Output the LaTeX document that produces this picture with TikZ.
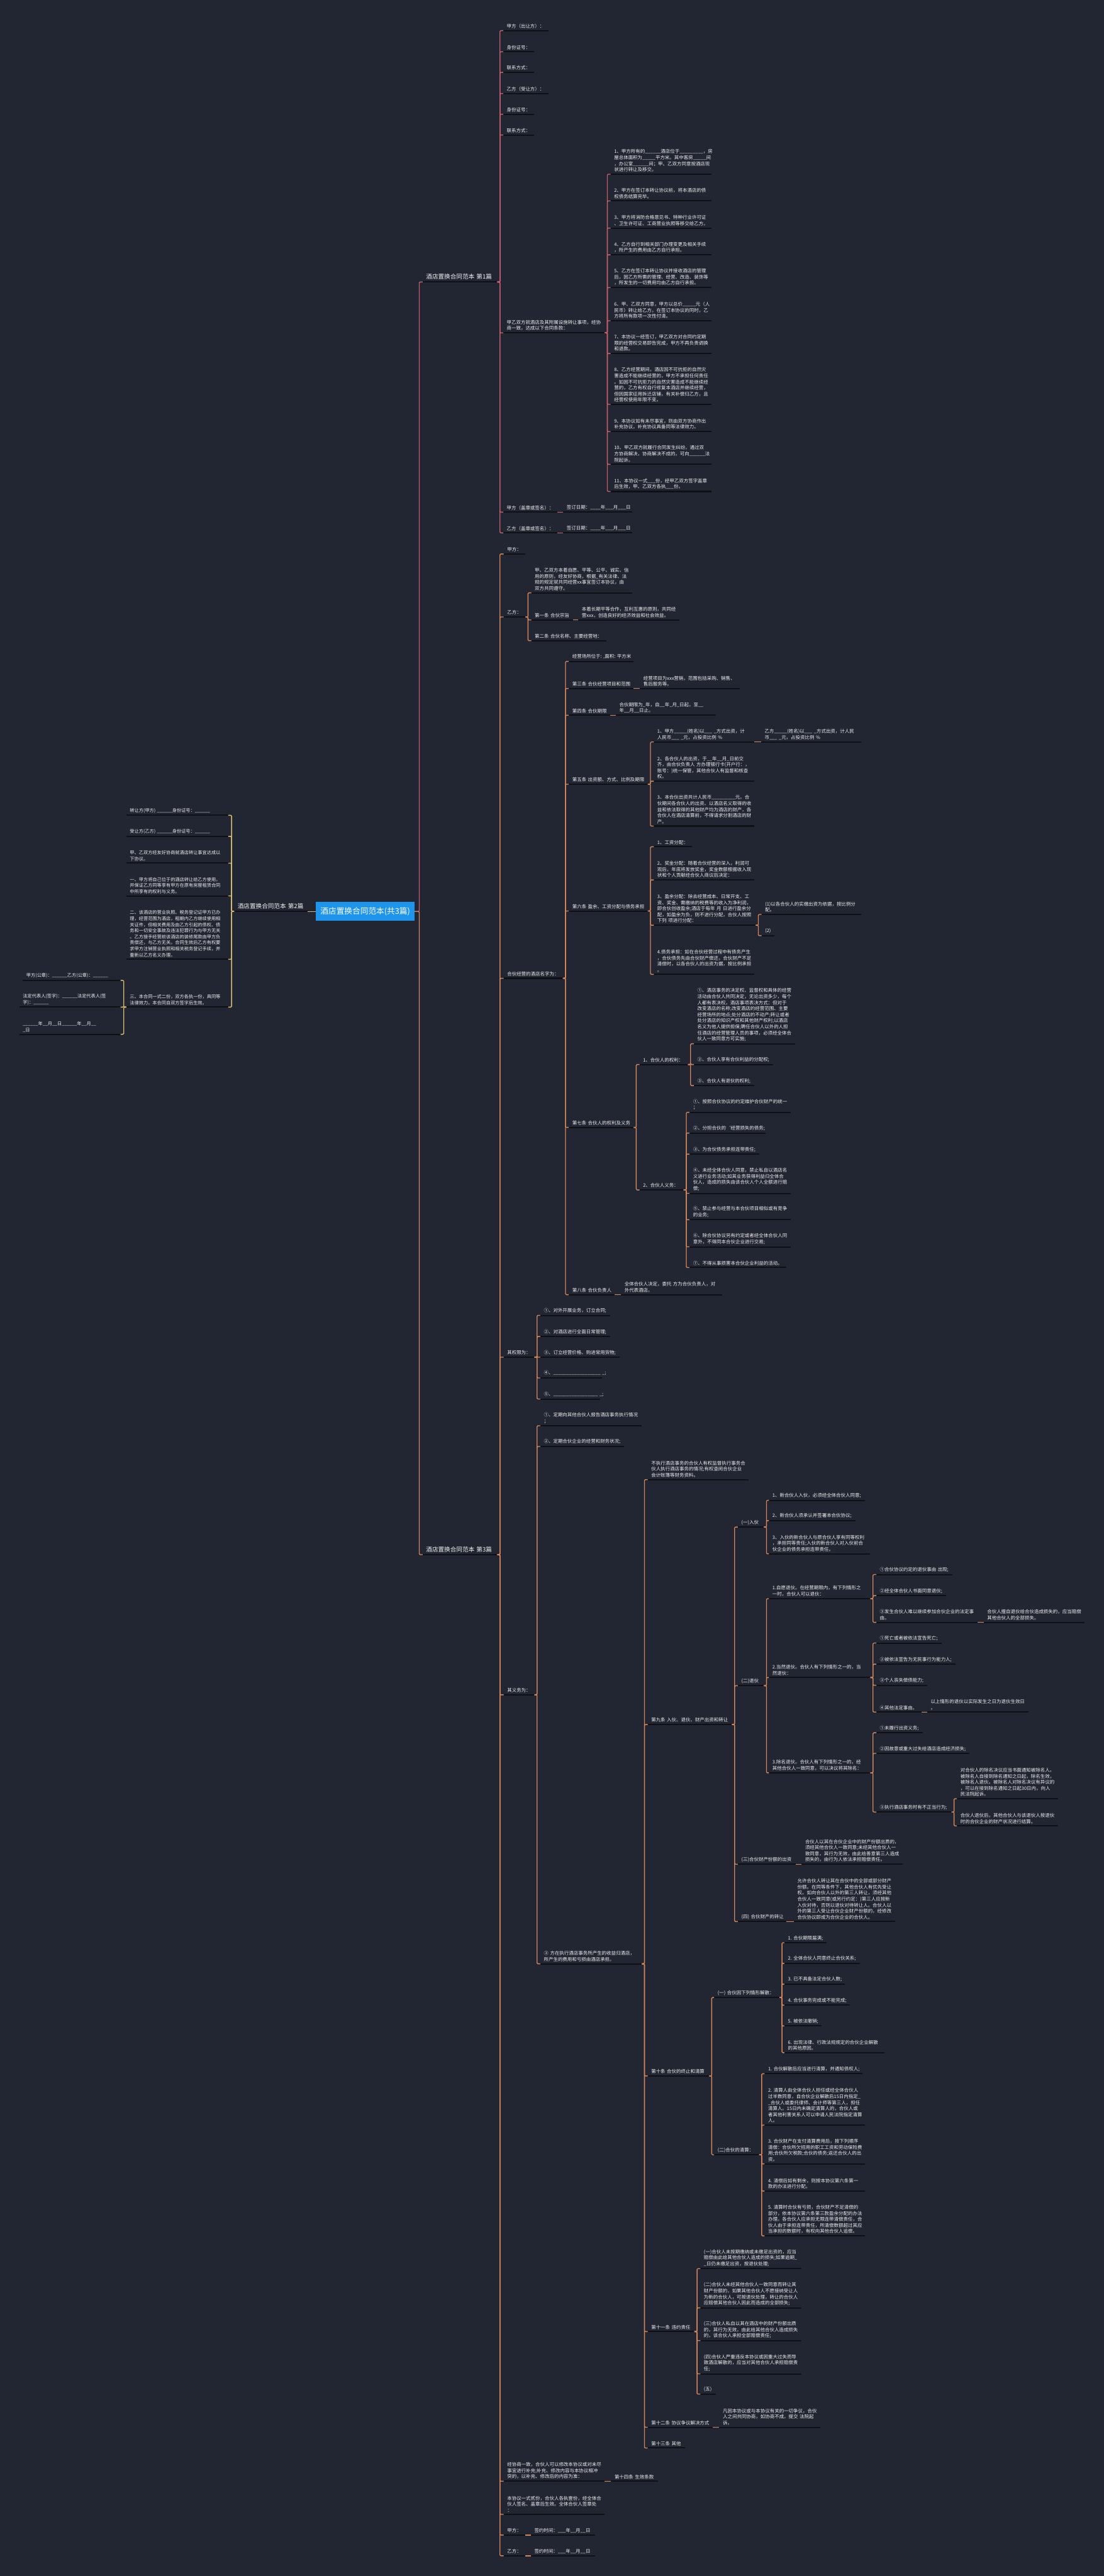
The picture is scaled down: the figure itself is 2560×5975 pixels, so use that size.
\documentclass[tikz,border=0pt]{standalone}
\usepackage{fontspec}
\setmainfont{Noto Sans CJK SC}
\definecolor{bgc}{HTML}{222532}
\definecolor{ulc}{HTML}{0E1015}
\definecolor{txt}{HTML}{F2F2F2}
\definecolor{rootc}{HTML}{1E94EA}
\definecolor{cA}{HTML}{C2616B}
\definecolor{cB}{HTML}{D6BD70}
\definecolor{cC}{HTML}{D2875A}
\newcommand\fbody{\fontsize{10.9pt}{14pt}\selectfont}
\newcommand\fsmall{\fontsize{10.5pt}{14pt}\selectfont}
\newcommand\fmid{\fontsize{14pt}{17pt}\selectfont}
\newcommand\fbig{\fontsize{18.5pt}{22pt}\selectfont}
\begin{document}
\begin{tikzpicture}[x=1pt, y=-1pt, font=\fbody,
    uline/.style={draw=ulc, line width=3pt},
    leaf/.style={anchor=south west, align=left, text=txt, inner xsep=8pt,
                 inner ysep=5pt, text width=#1pt,
                 append after command={(\tikzlastnode.south west) edge[uline] (\tikzlastnode.south east)}},
    leafb/.style={leaf=#1, font=\fsmall},
    lvl/.style={leaf=#1, font=\fmid},
    rootbox/.style={fill=rootc, text=white, font=\fbig, minimum width=228pt,
                    minimum height=43pt, inner sep=0pt},
    br1/.style={draw=cA, line width=2pt, rounded corners=2pt},
    br2/.style={draw=cB, line width=2pt, rounded corners=2pt},
    br3/.style={draw=cC, line width=2pt, rounded corners=2pt}]
  \useasboundingbox (0,0) rectangle (2560,5975);
  \fill[bgc] (0,0) rectangle (2560,5975);

  % root and the three parts
  \node[rootbox] (root) at (847,2114) {酒店置换合同范本(共3篇)};
  \node[lvl=157] (b1) at (980,654)  {酒店置换合同范本~第1篇};
  \node[lvl=154] (b2) at (543,2114) {酒店置换合同范本~第2篇};
  \node[lvl=157] (b3) at (980,3606) {酒店置换合同范本~第3篇};

  % part 1
  \node[leaf=89]  (jiaA)  at (1167,71)   {甲方（出让方）：};
  \node[leaf=55]  (idA)   at (1167,120)  {身份证号：};
  \node[leaf=55]  (telA)  at (1167,168)  {联系方式：};
  \node[leaf=89]  (yiA)   at (1167,217)  {乙方（受让方）：};
  \node[leaf=55]  (idB)   at (1167,265)  {身份证号：};
  \node[leaf=55]  (telB)  at (1167,313)  {联系方式：};
  \node[leaf=219] (terms) at (1167,772)  {甲乙双方就酒店及其附属设施转让事项，经协\\商一致，达成以下合同条款：};
  \node[leaf=109] (signA) at (1167,1188) {甲方（盖章或签名）：};
  \node[leaf=144] (dateA) at (1306,1188) {签订日期：\_\_\_\_年\_\_\_月\_\_\_日};
  \node[leaf=109] (signB) at (1167,1236) {乙方（盖章或签名）：};
  \node[leaf=144] (dateB) at (1306,1236) {签订日期：\_\_\_\_年\_\_\_月\_\_\_日};

  \node[leaf=218] (t1)  at (1416,404)  {1、甲方所有的\_\_\_\_\_\_酒店位于\_\_\_\_\_\_\_\_\_，房\\屋总体面积为\_\_\_\_\_平方米。其中客房\_\_\_\_\_间\\，办公室\_\_\_\_\_\_间；甲、乙双方同意按酒店现\\状进行转让及移交。};
  \node[leaf=218] (t2)  at (1416,466)  {2、甲方在签订本转让协议前，将本酒店的债\\权债务结算完毕。};
  \node[leaf=218] (t3)  at (1416,529)  {3、甲方将消防合格意见书、特种行业许可证\\、卫生许可证、工商营业执照等移交给乙方。};
  \node[leaf=218] (t4)  at (1416,591)  {4、乙方自行到相关部门办理变更及相关手续\\，所产生的费用由乙方自行承担。};
  \node[leaf=218] (t5)  at (1416,667)  {5、乙方在签订本转让协议并接收酒店的管理\\后，因乙方所需的管理、经营、改造、装饰等\\，所发生的一切费用均由乙方自行承担。};
  \node[leaf=218] (t6)  at (1416,744)  {6、甲、乙双方同意，甲方以总价\_\_\_\_\_元（人\\民币）转让给乙方，在签订本协议的同时，乙\\方将所有款项一次性付清。};
  \node[leaf=218] (t7)  at (1416,820)  {7、本协议一经签订，甲乙双方对合同约定期\\限的经营权交易即告完成，甲方不再负责调换\\和退款。};
  \node[leaf=218] (t8)  at (1416,938)  {8、乙方经营期间，酒店因不可抗拒的自然灾\\害造成不能继续经营的，甲方不承担任何责任\\。如因不可抗拒力的自然灾害造成不能继续经\\营的，乙方有权自行修复本酒店并继续经营，\\但因国家征用拆迁店铺，有关补偿归乙方，且\\经营权使用年限不变。};
  \node[leaf=218] (t9)  at (1416,1001) {9、本协议如有未尽事宜，则由双方协商作出\\补充协议，补充协议具备同等法律效力。};
  \node[leaf=218] (t10) at (1416,1077) {10、甲乙双方就履行合同发生纠纷，通过双\\方协商解决，协商解决不成的，可向\_\_\_\_\_\_法\\院起诉。};
  \node[leaf=218] (t11) at (1416,1140) {11、本协议一式\_\_\_份，经甲乙双方签字盖章\\后生效，甲、乙双方各执\_\_\_份。};

  % part 2
  \node[leafb=220] (c1) at (293,1891) {转让方(甲方)~\_\_\_\_\_\_身份证号：\_\_\_\_\_\_};
  \node[leafb=220] (c2) at (293,1940) {受让方(乙方)~\_\_\_\_\_\_身份证号：\_\_\_\_\_\_};
  \node[leafb=220] (c3) at (293,2002) {甲、乙双方经友好协商就酒店转让事宜达成以\\下协议。};
  \node[leafb=220] (c4) at (293,2078) {一、甲方将自己位于的酒店转让给乙方使用，\\并保证乙方同等享有甲方在原有房屋租赁合同\\中所享有的权利与义务。};
  \node[leafb=220] (c5) at (293,2225) {二、该酒店的营业执照、税务登记证甲方已办\\理，经营范围为酒店，租期内乙方继续使用相\\关证件，但相关费用及由乙方引起的债权、债\\务和一切安全事故及违法犯罪行为与甲方无关\\。乙方接手经营前该酒店的装修尾款由甲方负\\责偿还，与乙方无关。合同生效后乙方有权要\\求甲方注销营业执照和相关税务登记手续，并\\重新以乙方名义办理。};
  \node[leafb=220] (c6) at (293,2336) {三、本合同一式二份，双方各执一份，具同等\\法律效力。本合同自双方签字后生效。};
  \node[leafb=210] (c6a) at (53,2274) {甲方(公章)：\_\_\_\_\_\_乙方(公章)：\_\_\_\_\_\_};
  \node[leafb=218] (c6b) at (45,2336) {法定代表人(签字)：\_\_\_\_\_\_法定代表人(签\\字)：\_\_\_\_\_\_};
  \node[leafb=218] (c6c) at (45,2399) {\_\_\_\_\_\_年\_\_月\_\_日\_\_\_\_\_\_年\_\_月\_\_\\\_日};

  % part 3
  \node[leaf=34]  (jia3)  at (1168,1285) {甲方：};
  \node[leaf=34]  (yi3)   at (1168,1431) {乙方：};
  \node[leaf=218] (pre3)  at (1232,1375) {甲、乙双方本着自愿、平等、公平、诚实、信\\用的原则，经友好协商，根据\_有关法律、法\\规的规定就共同经营xx事宜签订本协议，由\\双方共同遵守。};
  \node[leaf=80]  (art1)  at (1232,1438) {第一条~合伙宗旨};
  \node[leaf=218] (art1t) at (1341,1438) {本着长期平等合作，互利互惠的原则，共同经\\营xxx，创造良好的经济效益和社会效益。};
  \node[leaf=158] (art2)  at (1232,1486) {第二条~合伙名称、主要经营地：};
  \node[leaf=121] (name3) at (1168,2269) {合伙经营的酒店名字为：};
  \node[leaf=134] (place) at (1319,1534) {经营场所位于:~,面积:~平方米};
  \node[leaf=134] (art3)  at (1319,1597) {第三条~合伙经营项目和范围};
  \node[leaf=215] (art3t) at (1484,1597) {经营项目为xxx营销，范围包括采购、销售、\\售后服务等。};
  \node[leaf=80]  (art4)  at (1319,1659) {第四条~合伙期限};
  \node[leaf=215] (art4t) at (1428,1659) {合伙期限为\_年，自\_\_年\_月\_日起，至\_\_\\年\_\_月\_\_日止。};
  \node[leaf=167] (art5)  at (1319,1819) {第五条~出资额、方式、比例及期限};
  \node[leaf=216] (art5a) at (1516,1721) {1、甲方\_\_\_\_\_(姓名)以\_\_\_~\_方式出资，计\\人民币\_\_\_~\_元，占投资比例~\%};
  \node[leaf=216] (art5at) at (1765,1721) {乙方\_\_\_\_\_(姓名)以\_\_\_~\_方式出资，计人民\\币\_\_\_~\_元，占投资比例~\%};
  \node[leaf=216] (art5b) at (1516,1812) {2、各合伙人的出资，于\_\_年\_\_月\_日前交\\齐，由合伙负责人~方办理银行卡(开户行：，\\账号：)统一保管，其他合伙人有监督和核查\\权。};
  \node[leaf=216] (art5c) at (1516,1916) {3、本合伙出资共计人民币\_\_\_\_\_\_\_\_\_元。合\\伙期间各合伙人的出资、以酒店名义取得的收\\益和依法取得的其他财产均为酒店的财产，各\\合伙人在酒店清算前，不得请求分割酒店的财\\产。};
  \node[leaf=167] (art6)  at (1319,2113) {第六条~盈余、工资分配与债务承担};
  \node[leaf=72]  (art6a) at (1516,1964) {1、工资分配：};
  \node[leaf=216] (art6b) at (1516,2041) {2、奖金分配：随着合伙经营的深入，利润可\\观后，年底将发放奖金，奖金数额根据收入现\\状和个人贡献经合伙人商议后决定：};
  \node[leaf=220] (art6c) at (1516,2146) {3、盈余分配：除去经营成本、日常开支、工\\资、奖金、需缴纳的税费等的收入为净利润，\\即合伙创收盈余;酒店于每年~月~日进行盈余分\\配，如盈余为负，则不进行分配，合伙人按照\\下列~项进行分配：};
  \node[leaf=215] (art6c1) at (1766,2121) {(1)以各合伙人的实缴出资为依据，按比例分\\配。};
  \node[leaf=14]  (art6c2) at (1766,2170) {(2)};
  \node[leaf=216] (art6d) at (1516,2260) {4.债务承担：如在合伙经营过程中有债务产生\\，合伙债务先由合伙财产偿还，合伙财产不足\\清偿时，以各合伙人的出资为据，按比例承担\\。};
  \node[leaf=134] (art7)  at (1319,2615) {第七条~合伙人的权利及义务};
  \node[leaf=96]  (right7) at (1483,2469) {1、合伙人的权利：};
  \node[leaf=218] (right7a) at (1609,2421) {①、酒店事务的决定权、监督权和具体的经营\\活动由合伙人共同决定，无论出资多少，每个\\人都有表决权，酒店事项表决方式：但对于\\改变酒店的名称;改变酒店的经营范围、主要\\经营场所的地点;处分酒店的不动产;转让或者\\处分酒店的知识产权和其他财产权利;以酒店\\名义为他人提供担保;聘任合伙人以外的人担\\任酒店的经营管理人员的事项，必须经全体合\\伙人一致同意方可实施;};
  \node[leaf=168] (right7b) at (1609,2469) {②、合伙人享有合伙利益的分配权;};
  \node[leaf=124] (right7c) at (1609,2518) {③、合伙人有退伙的权利;};
  \node[leaf=86]  (duty7) at (1483,2760) {2、合伙人义务：};
  \node[leaf=218] (duty7a) at (1599,2580) {①、按照合伙协议的约定维护合伙财产的统一\\；};
  \node[leaf=160] (duty7b) at (1599,2628) {②、分担合伙的‘经营损失的债务;};
  \node[leaf=146] (duty7c) at (1599,2677) {③、为合伙债务承担连带责任;};
  \node[leaf=218] (duty7d) at (1599,2768) {④、未经全体合伙人同意，禁止私自以酒店名\\义进行业务活动;如其业务获得利益归全体合\\伙人，造成的损失由该合伙人个人全额进行赔\\偿;};
  \node[leaf=218] (duty7e) at (1599,2829) {⑤、禁止参与经营与本合伙项目相似或有竞争\\的业务;};
  \node[leaf=218] (duty7f) at (1599,2892) {⑥、除合伙协议另有约定或者经全体合伙人同\\意外，不得同本合伙企业进行交易;};
  \node[leaf=208] (duty7g) at (1599,2940) {⑦、不得从事损害本合伙企业利益的活动。};
  \node[leaf=90]  (art8)  at (1319,3003) {第八条~合伙负责人};
  \node[leaf=218] (art8t) at (1440,3003) {全体合伙人决定，委托~方为合伙负责人，对\\外代表酒店。};

  \node[leaf=55]  (power) at (1168,3148) {其权限为：};
  \node[leaf=146] (pw1) at (1253,3051) {①、对外开展业务，订立合同;};
  \node[leaf=146] (pw2) at (1253,3100) {②、对酒店进行全面日常管理;};
  \node[leaf=168] (pw3) at (1253,3148) {③、订立经营价格、购进常用货物;};
  \node[leaf=127] (pw4) at (1253,3196) {④、\_\_\_\_\_\_\_\_\_\_\_\_\_\_\_\_\_\_~\_;};
  \node[leaf=122] (pw5) at (1253,3245) {⑤、\_\_\_\_\_\_\_\_\_\_\_\_\_\_\_\_\_~\_;};
  \node[leaf=55]  (duty) at (1168,3931) {其义务为：};
  \node[leaf=218] (du1) at (1253,3307) {①、定期向其他合伙人报告酒店事务执行情况\\；};
  \node[leaf=178] (du2) at (1253,3355) {②、定期合伙企业的经营和财务状况;};
  \node[leaf=219] (du3) at (1253,4555) {③~方在执行酒店事务所产生的收益归酒店，\\所产生的费用和亏损由酒店承担。};
  \node[leaf=218] (supv) at (1502,3432) {不执行酒店事务的合伙人有权监督执行事务合\\伙人执行酒店事务的情况;有权查阅合伙企业\\会计账簿等财务资料。};

  \node[leaf=179] (art9) at (1502,4000) {第九条~入伙、退伙、财产出资和转让};
  \node[leaf=44]  (join) at (1711,3542) {(一)入伙};
  \node[leaf=206] (join1) at (1783,3480) {1、新合伙人入伙，必须经全体合伙人同意;};
  \node[leaf=184] (join2) at (1783,3527) {2、新合伙人须承认并签署本合伙协议;};
  \node[leaf=218] (join3) at (1783,3604) {3、入伙的新合伙人与原合伙人享有同等权利\\，承担同等责任;入伙的新合伙人对入伙前合\\伙企业的债务承担连带责任。};
  \node[leaf=44]  (quit) at (1711,3910) {(二)退伙};
  \node[leaf=219] (quit1) at (1783,3708) {1.自愿退伙。在经营期限内，有下列情形之\\一时，合伙人可以退伙：};
  \node[leaf=160] (q1a) at (2032,3652) {①合伙协议约定的退伙事由~出现;};
  \node[leaf=146] (q1b) at (2032,3701) {②经全体合伙人书面同意退伙;};
  \node[leaf=218] (q1c) at (2032,3763) {③发生合伙人难以继续参加合伙企业的法定事\\由。};
  \node[leaf=218] (q1ct) at (2281,3763) {合伙人擅自退伙给合伙造成损失的，应当赔偿\\其他合伙人的全部损失。};
  \node[leaf=219] (quit2) at (1783,3891) {2.当然退伙。合伙人有下列情形之一的，当\\然退伙：};
  \node[leaf=136] (q2a) at (2032,3811) {①死亡或者被依法宣告死亡;};
  \node[leaf=168] (q2b) at (2032,3860) {②被依法宣告为无民事行为能力人;};
  \node[leaf=102] (q2c) at (2032,3909) {③个人丧失偿债能力;};
  \node[leaf=88]  (q2d) at (2032,3971) {④其他法定事由。};
  \node[leaf=218] (q2dt) at (2150,3971) {以上情形的退伙以实际发生之日为退伙生效日\\。};
  \node[leaf=219] (quit3) at (1783,4112) {3.除名退伙。合伙人有下列情形之一的，经\\其他合伙人一致同意，可以决议将其除名：};
  \node[leaf=92]  (q3a) at (2032,4019) {①未履行出资义务;};
  \node[leaf=200] (q3b) at (2032,4067) {②因故意或重大过失给酒店造成经济损失;};
  \node[leaf=158] (q3c) at (2032,4203) {③执行酒店事务时有不正当行为;};
  \node[leaf=218] (q3c1) at (2219,4172) {对合伙人的除名决议应当书面通知被除名人。\\被除名人自接到除名通知之日起，除名生效，\\被除名人退伙。被除名人对除名决议有异议的\\，可以在接到除名通知之日起30日内，向人\\民法院起诉。};
  \node[leaf=218] (q3c2) at (2219,4235) {合伙人退伙后，其他合伙人与该退伙人按退伙\\时的合伙企业的财产状况进行结算。};
  \node[leaf=118] (pledge) at (1711,4324) {(三)合伙财产份额的出资};
  \node[leaf=218] (pledget) at (1859,4324) {合伙人以其在合伙企业中的财产份额出质的，\\须经其他合伙人一致同意;未经其他合伙人一\\致同意，其行为无效，由此给善意第三人造成\\损失的，由行为人依法承担赔偿责任。};
  \node[leaf=96]  (trans) at (1711,4457) {(四)~合伙财产的转让};
  \node[leaf=218] (transt) at (1841,4457) {允许合伙人转让其在合伙中的全部或部分财产\\份额。在同等条件下，其他合伙人有优先受让\\权。如向合伙人以外的第三人转让，须经其他\\合伙人一致同意(或另行约定：)第三人应按新\\入伙对待，否则以退伙对待转让人。合伙人以\\外的第三人受让合伙企业财产份额的，经修改\\合伙协议即成为合伙企业的合伙人。};

  \node[leaf=126] (art10) at (1502,4815) {第十条~合伙的终止和清算};
  \node[leaf=135] (dis) at (1656,4633) {(一)~合伙因下列情形解散：};
  \node[leaf=82]  (dis1) at (1819,4506) {1.~合伙期限届满;};
  \node[leaf=158] (dis2) at (1819,4554) {2.~全体合伙人同意终止合伙关系;};
  \node[leaf=124] (dis3) at (1819,4602) {3.~已不具备法定合伙人数;};
  \node[leaf=136] (dis4) at (1819,4651) {4.~合伙事务完成或不能完成;};
  \node[leaf=70]  (dis5) at (1819,4699) {5.~被依法撤销;};
  \node[leaf=216] (dis6) at (1819,4761) {6.~出现法律、行政法规规定的合伙企业解散\\的其他原因。};
  \node[leaf=88]  (clr) at (1656,4998) {(二)合伙的清算：};
  \node[leaf=210] (clr1) at (1773,4810) {1.~合伙解散后应当进行清算，并通知债权人;};
  \node[leaf=216] (clr2) at (1773,4929) {2.~清算人由全体合伙人担任或经全体合伙人\\过半数同意，自合伙企业解散后15日内指定\_\\\_合伙人或委托律师、会计师等第三人，担任\\清算人。15日内未确定清算人的，合伙人或\\者其他利害关系人可以申请人民法院指定清算\\人。};
  \node[leaf=216] (clr3) at (1773,5019) {3.~合伙财产在支付清算费用后，按下列顺序\\清偿：合伙所欠招用的职工工资和劳动保险费\\用;合伙所欠税款;合伙的债务;返还合伙人的出\\资。};
  \node[leaf=216] (clr4) at (1773,5082) {4.~清偿后如有剩余，则按本协议第六条第一\\款的办法进行分配。};
  \node[leaf=216] (clr5) at (1773,5186) {5.~清算时合伙有亏损，合伙财产不足清偿的\\部分，依本协议第六条第三款盈余分配的办法\\办理。各合伙人应承担无限连带清偿责任，合\\伙人由于承担连带责任，所清偿数额超过其应\\当承担的数额时，有权向其他合伙人追偿。};

  \node[leaf=92]  (art11) at (1502,5408) {第十一条~违约责任};
  \node[leaf=218] (br1) at (1624,5262) {(一)合伙人未按期缴纳或未缴足出资的，应当\\赔偿由此给其他合伙人造成的损失;如果逾期\_\\\_日仍未缴足出资，按退伙处理;};
  \node[leaf=218] (br2) at (1624,5353) {(二)合伙人未经其他合伙人一致同意而转让其\\财产份额的，如果其他合伙人不愿接纳受让人\\为新的合伙人，可按退伙处理，转让的合伙人\\应赔偿其他合伙人因此而造成的全部损失;};
  \node[leaf=218] (br3) at (1624,5429) {(三)合伙人私自以其在酒店中的财产份额出质\\的，其行为无效，由此给其他合伙人造成损失\\的，该合伙人承担全部赔偿责任;};
  \node[leaf=218] (br4) at (1624,5506) {(四)合伙人严重违反本协议或因重大过失而导\\致酒店解散的，应当对其他合伙人承担赔偿责\\任;};
  \node[leaf=20]  (br5) at (1624,5553) {(五)};
  \node[leaf=134] (art12) at (1502,5630) {第十二条~协议争议解决方式};
  \node[leaf=218] (art12t) at (1668,5630) {凡因本协议或与本协议有关的一切争议，合伙\\人之间共同协商，如协商不成，提交~法院起\\诉。};
  \node[leaf=70]  (art13) at (1502,5678) {第十三条~其他};

  \node[leaf=218] (amend) at (1168,5755) {经协商一致，合伙人可以修改本协议或对未尽\\事宜进行补充;补充、修改内容与本协议相冲\\突的，以补充、修改后的内容为准：};
  \node[leaf=92]  (art14) at (1417,5755) {第十四条~生效条款};
  \node[leaf=218] (copies) at (1168,5832) {本协议一式贰份，合伙人各执壹份，经全体合\\伙人签名、盖章后生效。全体合伙人签章处\\：};
  \node[leaf=34]  (sigA) at (1168,5880) {甲方：};
  \node[leaf=133] (sigAt) at (1231,5880) {签约时间：\_\_\_年\_\_月\_\_日};
  \node[leaf=34]  (sigB) at (1168,5928) {乙方：};
  \node[leaf=133] (sigBt) at (1231,5928) {签约时间：\_\_\_年\_\_月\_\_日};

  % connectors
  \draw[br1] (root.east) -- ++(11,0) |- (b1.south west);
  \draw[br3] (root.east) -- ++(11,0) |- (b3.south west);
  \draw[br2] (root.west) -- (b2.south east);

  \foreach \nd in {jiaA,idA,telA,yiA,idB,telB,terms,signA,signB}
    \draw[br1] (b1.south east) -- ++(6,0) |- (\nd.south west);
  \foreach \nd in {t1,t2,t3,t4,t5,t6,t7,t8,t9,t10,t11}
    \draw[br1] (terms.south east) -- ++(6,0) |- (\nd.south west);
  \draw[br1] (signA.south east) -- (dateA.south west);
  \draw[br1] (signB.south east) -- (dateB.south west);

  \foreach \nd in {c1,c2,c3,c4,c5,c6}
    \draw[br2] (b2.south west) -- ++(-6,0) |- (\nd.south east);
  \foreach \nd in {c6a,c6b,c6c}
    \draw[br2] (c6.south west) -- ++(-6,0) |- (\nd.south east);

  \foreach \nd in {jia3,yi3,name3,power,duty,amend,copies,sigA,sigB}
    \draw[br3] (b3.south east) -- ++(6,0) |- (\nd.south west);
  \foreach \nd in {pre3,art1,art2}
    \draw[br3] (yi3.south east) -- ++(6,0) |- (\nd.south west);
  \draw[br3] (art1.south east) -- (art1t.south west);
  \foreach \nd in {place,art3,art4,art5,art6,art7,art8}
    \draw[br3] (name3.south east) -- ++(6,0) |- (\nd.south west);
  \draw[br3] (art3.south east) -- (art3t.south west);
  \draw[br3] (art4.south east) -- (art4t.south west);
  \foreach \nd in {art5a,art5b,art5c}
    \draw[br3] (art5.south east) -- ++(6,0) |- (\nd.south west);
  \draw[br3] (art5a.south east) -- (art5at.south west);
  \foreach \nd in {art6a,art6b,art6c,art6d}
    \draw[br3] (art6.south east) -- ++(6,0) |- (\nd.south west);
  \foreach \nd in {art6c1,art6c2}
    \draw[br3] (art6c.south east) -- ++(6,0) |- (\nd.south west);
  \foreach \nd in {right7,duty7}
    \draw[br3] (art7.south east) -- ++(6,0) |- (\nd.south west);
  \foreach \nd in {right7a,right7b,right7c}
    \draw[br3] (right7.south east) -- ++(6,0) |- (\nd.south west);
  \foreach \nd in {duty7a,duty7b,duty7c,duty7d,duty7e,duty7f,duty7g}
    \draw[br3] (duty7.south east) -- ++(6,0) |- (\nd.south west);
  \draw[br3] (art8.south east) -- (art8t.south west);
  \foreach \nd in {pw1,pw2,pw3,pw4,pw5}
    \draw[br3] (power.south east) -- ++(6,0) |- (\nd.south west);
  \foreach \nd in {du1,du2,du3}
    \draw[br3] (duty.south east) -- ++(6,0) |- (\nd.south west);
  \foreach \nd in {supv,art9,art10,art11,art12,art13}
    \draw[br3] (du3.south east) -- ++(6,0) |- (\nd.south west);
  \foreach \nd in {join,quit,pledge,trans}
    \draw[br3] (art9.south east) -- ++(6,0) |- (\nd.south west);
  \foreach \nd in {join1,join2,join3}
    \draw[br3] (join.south east) -- ++(6,0) |- (\nd.south west);
  \foreach \nd in {quit1,quit2,quit3}
    \draw[br3] (quit.south east) -- ++(6,0) |- (\nd.south west);
  \foreach \nd in {q1a,q1b,q1c}
    \draw[br3] (quit1.south east) -- ++(6,0) |- (\nd.south west);
  \draw[br3] (q1c.south east) -- (q1ct.south west);
  \foreach \nd in {q2a,q2b,q2c,q2d}
    \draw[br3] (quit2.south east) -- ++(6,0) |- (\nd.south west);
  \draw[br3] (q2d.south east) -- (q2dt.south west);
  \foreach \nd in {q3a,q3b,q3c}
    \draw[br3] (quit3.south east) -- ++(6,0) |- (\nd.south west);
  \foreach \nd in {q3c1,q3c2}
    \draw[br3] (q3c.south east) -- ++(6,0) |- (\nd.south west);
  \draw[br3] (pledge.south east) -- (pledget.south west);
  \draw[br3] (trans.south east) -- (transt.south west);
  \foreach \nd in {dis,clr}
    \draw[br3] (art10.south east) -- ++(6,0) |- (\nd.south west);
  \foreach \nd in {dis1,dis2,dis3,dis4,dis5,dis6}
    \draw[br3] (dis.south east) -- ++(6,0) |- (\nd.south west);
  \foreach \nd in {clr1,clr2,clr3,clr4,clr5}
    \draw[br3] (clr.south east) -- ++(6,0) |- (\nd.south west);
  \foreach \nd in {br1,br2,br3,br4,br5}
    \draw[br3] (art11.south east) -- ++(6,0) |- (\nd.south west);
  \draw[br3] (art12.south east) -- (art12t.south west);
  \draw[br3] (amend.south east) -- (art14.south west);
  \draw[br3] (sigA.south east) -- (sigAt.south west);
  \draw[br3] (sigB.south east) -- (sigBt.south west);
\end{tikzpicture}
\end{document}
